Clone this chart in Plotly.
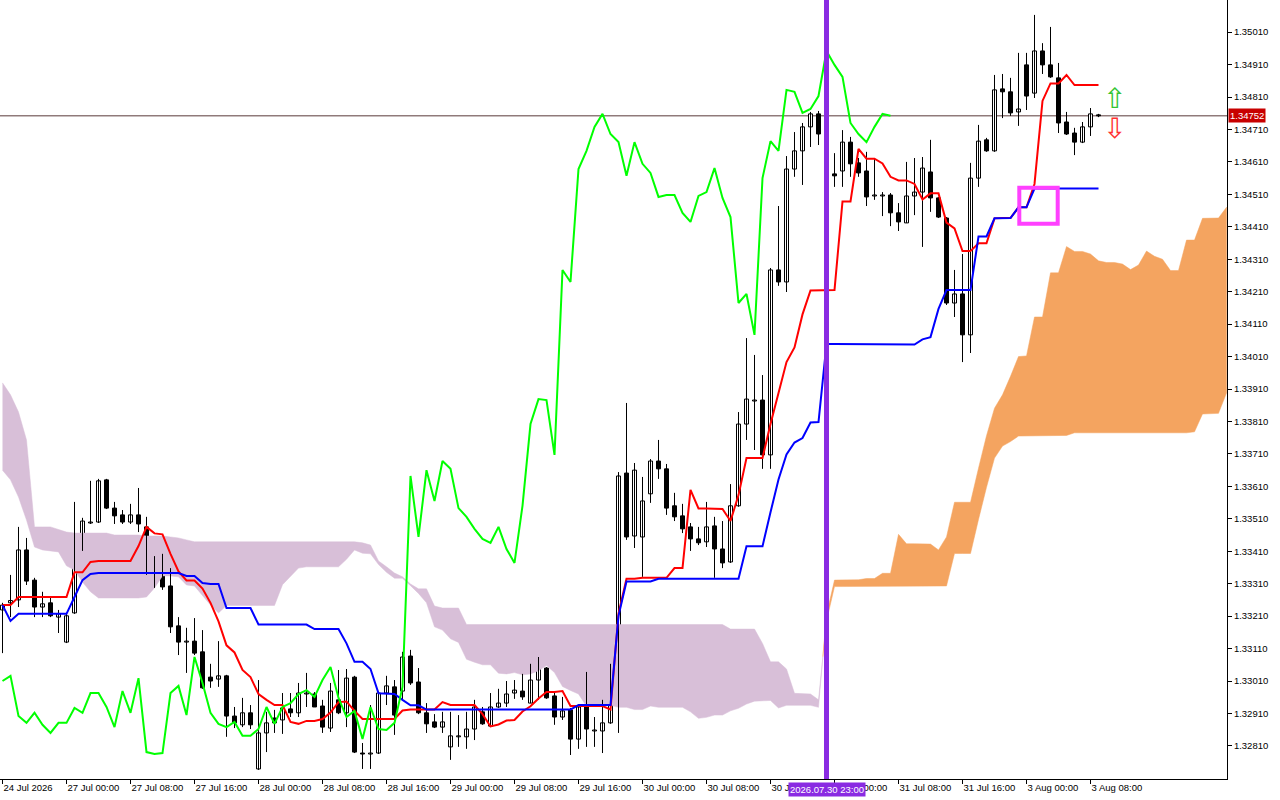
import plotly.graph_objects as go

# ---------------- data (H1, 24 Jul 16:00 -> 3 Aug 09:00) ----------------
label_bars = [0, 8, 16, 24, 32, 40, 48, 56, 64, 72, 80, 88, 96, 104, 112, 120, 128, 136]
label_text = ["24 Jul 2026", "27 Jul 00:00", "27 Jul 08:00", "27 Jul 16:00", "28 Jul 00:00",
              "28 Jul 08:00", "28 Jul 16:00", "29 Jul 00:00", "29 Jul 08:00", "29 Jul 16:00",
              "30 Jul 00:00", "30 Jul 08:00", "30 Jul 16:00", "31 Jul 00:00", "31 Jul 08:00",
              "31 Jul 16:00", "3 Aug 00:00", "3 Aug 08:00"]

price_ticks = [1.32810, 1.32910, 1.33010, 1.33110, 1.33210, 1.33310, 1.33410, 1.33510,
               1.33610, 1.33710, 1.33810, 1.33910, 1.34010, 1.34110, 1.34210, 1.34310,
               1.34410, 1.34510, 1.34610, 1.34710, 1.34810, 1.34910, 1.35010]

open_ = [1.33229, 1.33251, 1.33260, 1.33414, 1.33321, 1.33238, 1.33251, 1.33207, 1.33130, 1.33220,
         1.33420, 1.33497, 1.33500, 1.33630, 1.33543, 1.33522, 1.33500, 1.33522, 1.33485, 1.33340,
         1.33374, 1.33303, 1.33180, 1.33130, 1.33133, 1.33100, 1.33022, 1.33016, 1.33026, 1.32902,
         1.32875, 1.32912, 1.32739, 1.32850, 1.32896, 1.32890, 1.32924, 1.32912, 1.32970, 1.32970,
         1.32933, 1.32865, 1.32952, 1.32912, 1.33022, 1.32788, 1.32785, 1.32788, 1.32973, 1.32992,
         1.32979, 1.33087, 1.33007, 1.32912, 1.32884, 1.32868, 1.32807, 1.32838, 1.32838, 1.32862,
         1.32915, 1.32871, 1.32930, 1.32942, 1.32973, 1.32979, 1.32942, 1.33013, 1.33050, 1.32964,
         1.32899, 1.32921, 1.32831, 1.32930, 1.32856, 1.32856, 1.32881, 1.32986, 1.33651, 1.33457,
         1.33454, 1.33587, 1.33688, 1.33664, 1.33550, 1.33519, 1.33485, 1.33448, 1.33439, 1.33488,
         1.33417, 1.33377, 1.33550, 1.33802, 1.33873, 1.33876, 1.33707, 1.34277, 1.34240, 1.34588,
         1.34644, 1.34718, 1.34758, 1.34696, 1.34573, 1.34582, 1.34671, 1.34607, 1.34582, 1.34505,
         1.34505, 1.34508, 1.34453, 1.34422, 1.34505, 1.34517, 1.34579, 1.34499, 1.34437, 1.34175,
         1.34203, 1.34077, 1.34560, 1.34678, 1.34644, 1.34835, 1.34826, 1.34764, 1.34909, 1.34822,
         1.34952, 1.34909, 1.34869, 1.34733, 1.34699, 1.34671, 1.34718, 1.34755]

high = [1.33251, 1.33337, 1.33485, 1.33451, 1.33328, 1.33285, 1.33266, 1.33229, 1.33220, 1.33562,
        1.33513, 1.33627, 1.33633, 1.33633, 1.33562, 1.33537, 1.33556, 1.33605, 1.33516, 1.33395,
        1.33402, 1.33358, 1.33207, 1.33174, 1.33204, 1.33167, 1.33063, 1.33133, 1.33029, 1.32930,
        1.32958, 1.32936, 1.33013, 1.32915, 1.32921, 1.32973, 1.32973, 1.33004, 1.33035, 1.32976,
        1.32952, 1.33004, 1.33044, 1.33047, 1.33026, 1.32819, 1.32936, 1.32973, 1.33026, 1.33013,
        1.33100, 1.33106, 1.33050, 1.32942, 1.32908, 1.32915, 1.32915, 1.32905, 1.32915, 1.32952,
        1.32930, 1.32973, 1.32986, 1.33010, 1.33013, 1.33032, 1.33063, 1.33084, 1.33053, 1.32976,
        1.32961, 1.32927, 1.32933, 1.33038, 1.32899, 1.32952, 1.33063, 1.33654, 1.33867, 1.33682,
        1.33639, 1.33694, 1.33753, 1.33679, 1.33590, 1.33556, 1.33497, 1.33485, 1.33562, 1.33516,
        1.33503, 1.33617, 1.33839, 1.34067, 1.34015, 1.33953, 1.34283, 1.34474, 1.34628, 1.34702,
        1.34730, 1.34764, 1.34767, 1.34715, 1.34637, 1.34708, 1.34687, 1.34622, 1.34641, 1.34622,
        1.34517, 1.34514, 1.34483, 1.34610, 1.34622, 1.34625, 1.34678, 1.34502, 1.34440, 1.34277,
        1.34326, 1.34607, 1.34724, 1.34684, 1.34878, 1.34881, 1.34869, 1.34946, 1.34946, 1.35063,
        1.34976, 1.35026, 1.34915, 1.34764, 1.34715, 1.34733, 1.34776, 1.34758]

low = [1.33096, 1.33207, 1.33238, 1.33306, 1.33207, 1.33207, 1.33207, 1.33158, 1.33127, 1.33217,
       1.33411, 1.33494, 1.33497, 1.33540, 1.33494, 1.33494, 1.33494, 1.33469, 1.33337, 1.33297,
       1.33291, 1.33158, 1.33090, 1.33035, 1.33090, 1.32986, 1.32989, 1.32992, 1.32838, 1.32865,
       1.32868, 1.32862, 1.32736, 1.32791, 1.32850, 1.32847, 1.32899, 1.32899, 1.32930, 1.32930,
       1.32850, 1.32853, 1.32908, 1.32868, 1.32788, 1.32739, 1.32739, 1.32785, 1.32936, 1.32844,
       1.32952, 1.32998, 1.32908, 1.32850, 1.32865, 1.32850, 1.32767, 1.32807, 1.32801, 1.32828,
       1.32875, 1.32868, 1.32927, 1.32930, 1.32955, 1.32952, 1.32942, 1.32952, 1.32955, 1.32875,
       1.32890, 1.32782, 1.32801, 1.32807, 1.32807, 1.32788, 1.32878, 1.32850, 1.33445, 1.33420,
       1.33331, 1.33559, 1.33633, 1.33522, 1.33503, 1.33466, 1.33411, 1.33429, 1.33423, 1.33328,
       1.33358, 1.33374, 1.33547, 1.33753, 1.33722, 1.33664, 1.33664, 1.34228, 1.34209, 1.34564,
       1.34539, 1.34656, 1.34662, 1.34647, 1.34533, 1.34533, 1.34564, 1.34564, 1.34474, 1.34493,
       1.34443, 1.34412, 1.34397, 1.34422, 1.34446, 1.34348, 1.34456, 1.34437, 1.34169, 1.34132,
       1.33993, 1.34021, 1.34533, 1.34641, 1.34641, 1.34745, 1.34752, 1.34721, 1.34770, 1.34807,
       1.34881, 1.34869, 1.34699, 1.34693, 1.34631, 1.34668, 1.34690, 1.34748]

close = [1.33244, 1.33258, 1.33414, 1.33318, 1.33238, 1.33248, 1.33211, 1.33217, 1.33211, 1.33423,
         1.33503, 1.33500, 1.33627, 1.33543, 1.33519, 1.33500, 1.33522, 1.33494, 1.33340, 1.33374,
         1.33300, 1.33177, 1.33130, 1.33133, 1.33096, 1.32989, 1.33010, 1.33026, 1.32902, 1.32881,
         1.32912, 1.32875, 1.32850, 1.32881, 1.32881, 1.32927, 1.32912, 1.32973, 1.32973, 1.32930,
         1.32868, 1.32979, 1.32912, 1.33019, 1.32791, 1.32785, 1.32788, 1.32973, 1.32995, 1.32905,
         1.33084, 1.33004, 1.32912, 1.32878, 1.32868, 1.32884, 1.32841, 1.32841, 1.32862, 1.32930,
         1.32878, 1.32930, 1.32942, 1.32970, 1.32982, 1.32961, 1.33013, 1.33053, 1.32958, 1.32899,
         1.32918, 1.32831, 1.32930, 1.32862, 1.32859, 1.32881, 1.32992, 1.33642, 1.33454, 1.33660,
         1.33565, 1.33688, 1.33664, 1.33543, 1.33516, 1.33479, 1.33448, 1.33436, 1.33485, 1.33417,
         1.33374, 1.33550, 1.33802, 1.33879, 1.33876, 1.33707, 1.34277, 1.34240, 1.34588, 1.34644,
         1.34718, 1.34758, 1.34696, 1.34671, 1.34567, 1.34671, 1.34604, 1.34576, 1.34502, 1.34508,
         1.34508, 1.34453, 1.34425, 1.34505, 1.34517, 1.34591, 1.34499, 1.34440, 1.34175, 1.34203,
         1.34077, 1.34560, 1.34674, 1.34644, 1.34832, 1.34826, 1.34761, 1.34773, 1.34813, 1.34952,
         1.34909, 1.34872, 1.34730, 1.34696, 1.34671, 1.34718, 1.34758, 1.34752]

tenkan = [1.33244, 1.33244, 1.33269, 1.33269, 1.33269, 1.33269, 1.33269, 1.33269, 1.33269, 1.33345,
          1.33345, 1.33377, 1.33380, 1.33380, 1.33380, 1.33380, 1.33380, 1.33426, 1.33485, 1.33465,
          1.33462, 1.33402, 1.33348, 1.33320, 1.33320, 1.33295, 1.33251, 1.33194, 1.33120, 1.33098,
          1.33044, 1.33022, 1.32970, 1.32952, 1.32936, 1.32936, 1.32884, 1.32878, 1.32887, 1.32887,
          1.32893, 1.32913, 1.32945, 1.32947, 1.32918, 1.32893, 1.32893, 1.32893, 1.32893, 1.32893,
          1.32919, 1.32922, 1.32922, 1.32922, 1.32922, 1.32945, 1.32936, 1.32936, 1.32936, 1.32936,
          1.32908, 1.32870, 1.32876, 1.32888, 1.32890, 1.32916, 1.32932, 1.32956, 1.32976, 1.32976,
          1.32979, 1.32933, 1.32933, 1.32933, 1.32933, 1.32933, 1.32922, 1.33218, 1.33325, 1.33325,
          1.33328, 1.33328, 1.33328, 1.33328, 1.33358, 1.33358, 1.33599, 1.33542, 1.33542, 1.33540,
          1.33540, 1.33503, 1.33583, 1.33697, 1.33697, 1.33697, 1.33802, 1.33901, 1.33993, 1.34038,
          1.34140, 1.34214, 1.34215, 1.34215, 1.34215, 1.34488, 1.34488, 1.34650, 1.34620, 1.34620,
          1.34605, 1.34564, 1.34553, 1.34553, 1.34542, 1.34494, 1.34513, 1.34513, 1.34423, 1.34405,
          1.34335, 1.34335, 1.34359, 1.34359, 1.34436, 1.34437, 1.34437, 1.34470, 1.34470, 1.34542,
          1.34798, 1.34852, 1.34852, 1.34878, 1.34847, 1.34847, 1.34847, 1.34847]

kijun = [1.33244, 1.33195, 1.33217, 1.33217, 1.33217, 1.33217, 1.33217, 1.33217, 1.33217, 1.33269,
         1.33321, 1.33340, 1.33343, 1.33343, 1.33343, 1.33343, 1.33343, 1.33343, 1.33343, 1.33343,
         1.33343, 1.33343, 1.33343, 1.33334, 1.33334, 1.33312, 1.33309, 1.33309, 1.33235, 1.33235,
         1.33235, 1.33235, 1.33184, 1.33184, 1.33184, 1.33184, 1.33184, 1.33184, 1.33184, 1.33170,
         1.33170, 1.33170, 1.33170, 1.33126, 1.33069, 1.33069, 1.33047, 1.32972, 1.32970, 1.32970,
         1.32952, 1.32935, 1.32935, 1.32922, 1.32922, 1.32922, 1.32922, 1.32922, 1.32922, 1.32922,
         1.32922, 1.32922, 1.32922, 1.32922, 1.32922, 1.32922, 1.32922, 1.32922, 1.32922, 1.32922,
         1.32922, 1.32922, 1.32936, 1.32936, 1.32936, 1.32936, 1.32936, 1.33211, 1.33317, 1.33317,
         1.33317, 1.33317, 1.33325, 1.33325, 1.33325, 1.33325, 1.33325, 1.33325, 1.33325, 1.33325,
         1.33325, 1.33325, 1.33325, 1.33425, 1.33425, 1.33425, 1.33530, 1.33631, 1.33708, 1.33745,
         1.33759, 1.33807, 1.33808, 1.34049, 1.34049, 1.34049, 1.34047, 1.34047, 1.34047, 1.34047,
         1.34047, 1.34047, 1.34047, 1.34047, 1.34047, 1.34063, 1.34070, 1.34157, 1.34215, 1.34215,
         1.34215, 1.34215, 1.34380, 1.34380, 1.34436, 1.34437, 1.34437, 1.34470, 1.34470, 1.34528,
         1.34528, 1.34528, 1.34528, 1.34528, 1.34528, 1.34528, 1.34528, 1.34528]

# Senkou spans, already shifted 26 bars forward (index = chart bar, runs past the last candle)
senkou_a = [1.33660, 1.33630, 1.33577, 1.33506, 1.33423, 1.33414, 1.33411, 1.33408, 1.33365, 1.33352,
            1.33315, 1.33285, 1.33266, 1.33266, 1.33266, 1.33266, 1.33266, 1.33266, 1.33269, 1.33297,
            1.33334, 1.33334, 1.33331, 1.33306, 1.33303, 1.33272, 1.33244, 1.33220, 1.33243, 1.33243,
            1.33243, 1.33243, 1.33243, 1.33243, 1.33243, 1.33307, 1.33333, 1.33358, 1.33362, 1.33362,
            1.33362, 1.33362, 1.33362, 1.33385, 1.33414, 1.33404, 1.33402, 1.33369, 1.33345, 1.33327,
            1.33327, 1.33304, 1.33280, 1.33251, 1.33177, 1.33167, 1.33140, 1.33129, 1.33077, 1.33068,
            1.33060, 1.33060, 1.33034, 1.33032, 1.33036, 1.33029, 1.33032, 1.33042, 1.33058, 1.33036,
            1.32993, 1.32981, 1.32970, 1.32932, 1.32932, 1.32932, 1.32935, 1.32929, 1.32929, 1.32922,
            1.32922, 1.32933, 1.32929, 1.32929, 1.32929, 1.32929, 1.32915, 1.32895, 1.32898, 1.32905,
            1.32905, 1.32918, 1.32926, 1.32939, 1.32948, 1.32948, 1.32950, 1.32927, 1.32935, 1.32935,
            1.32935, 1.32935, 1.32929, 1.33214, 1.33321, 1.33321, 1.33322, 1.33322, 1.33326, 1.33326,
            1.33342, 1.33342, 1.33462, 1.33433, 1.33433, 1.33432, 1.33432, 1.33414, 1.33454, 1.33561,
            1.33561, 1.33561, 1.33666, 1.33766, 1.33851, 1.33892, 1.33949, 1.34010, 1.34012, 1.34132,
            1.34132, 1.34268, 1.34268, 1.34349, 1.34334, 1.34334, 1.34326, 1.34305, 1.34300, 1.34300,
            1.34295, 1.34278, 1.34292, 1.34335, 1.34319, 1.34310, 1.34275, 1.34275, 1.34369, 1.34369,
            1.34436, 1.34437, 1.34437, 1.34470]

senkou_b = [1.33929, 1.33892, 1.33839, 1.33753, 1.33485, 1.33485, 1.33485, 1.33476, 1.33469, 1.33466,
            1.33466, 1.33466, 1.33466, 1.33466, 1.33460, 1.33460, 1.33460, 1.33460, 1.33457, 1.33457,
            1.33457, 1.33454, 1.33451, 1.33445, 1.33439, 1.33439, 1.33439, 1.33439, 1.33439, 1.33439,
            1.33439, 1.33439, 1.33439, 1.33439, 1.33439, 1.33439, 1.33439, 1.33439, 1.33439, 1.33439,
            1.33439, 1.33439, 1.33439, 1.33439, 1.33439, 1.33436, 1.33429, 1.33380, 1.33362, 1.33343,
            1.33331, 1.33309, 1.33294, 1.33294, 1.33241, 1.33235, 1.33235, 1.33235, 1.33184, 1.33184,
            1.33184, 1.33184, 1.33184, 1.33184, 1.33184, 1.33184, 1.33184, 1.33184, 1.33184, 1.33184,
            1.33184, 1.33184, 1.33184, 1.33184, 1.33184, 1.33184, 1.33184, 1.33184, 1.33184, 1.33184,
            1.33184, 1.33184, 1.33184, 1.33184, 1.33184, 1.33184, 1.33184, 1.33184, 1.33184, 1.33184,
            1.33184, 1.33170, 1.33170, 1.33170, 1.33170, 1.33126, 1.33069, 1.33069, 1.33047, 1.32972,
            1.32970, 1.32970, 1.32952, 1.33195, 1.33301, 1.33301, 1.33301, 1.33301, 1.33301, 1.33301,
            1.33303, 1.33303, 1.33303, 1.33303, 1.33303, 1.33303, 1.33303, 1.33303, 1.33303, 1.33403,
            1.33403, 1.33403, 1.33508, 1.33607, 1.33697, 1.33734, 1.33748, 1.33765, 1.33767, 1.33767,
            1.33767, 1.33767, 1.33767, 1.33767, 1.33775, 1.33775, 1.33775, 1.33775, 1.33775, 1.33775,
            1.33775, 1.33775, 1.33775, 1.33775, 1.33775, 1.33775, 1.33775, 1.33775, 1.33775, 1.33778,
            1.33833, 1.33835, 1.33835, 1.33898]

CHIKOU_SHIFT = 26
bid_price = 1.34752
event_bar = 103
event_label = "2026.07.30 23:00"
box_bars = (127.1, 131.9)
box_prices = (1.34419, 1.34530)
arrow_bar = 139
arrow_up_price = 1.34806
arrow_down_price = 1.34712

n = len(close)
assert len(open_) == n and len(high) == n and len(low) == n
assert len(tenkan) == n and len(kijun) == n, (len(tenkan), len(kijun))
assert len(senkou_a) == len(senkou_b) == 154, (len(senkou_a), len(senkou_b))

SANDY = "#F4A460"
THISTLE = "#D8BFD8"

fig = go.Figure()

# ---------------- Kumo (cloud) polygons, split where the spans cross ----------------
def cloud_regions(a, b):
    regions = []
    xs, up, lo = [], [], []
    sign = None
    for i in range(len(a)):
        s = a[i] >= b[i]
        if sign is None:
            sign = s
        if s != sign:
            d0 = a[i - 1] - b[i - 1]
            d1 = a[i] - b[i]
            t = d0 / (d0 - d1)
            xc = i - 1 + t
            yc = a[i - 1] + t * (a[i] - a[i - 1])
            xs.append(xc); up.append(yc); lo.append(yc)
            regions.append((xs, up, lo, sign))
            xs, up, lo = [xc], [yc], [yc]
            sign = s
        xs.append(i); up.append(a[i]); lo.append(b[i])
    regions.append((xs, up, lo, sign))
    return regions

for xs, up, lo, bull in cloud_regions(senkou_a, senkou_b):
    col = SANDY if bull else THISTLE
    fig.add_trace(go.Scatter(x=xs + xs[::-1], y=up + lo[::-1], fill="toself", fillcolor=col,
                             mode="lines", line=dict(color=col, width=0.5),
                             hoverinfo="skip", showlegend=False))

# ---------------- candles ----------------
wx, wy = [], []
for i in range(n):
    wx += [i, i, None]
    wy += [low[i], high[i], None]
fig.add_trace(go.Scatter(x=wx, y=wy, mode="lines", line=dict(color="black", width=1),
                         hoverinfo="skip", showlegend=False))

MIN_BODY = 0.00001
for bull in (True, False):
    idx = [i for i in range(n) if (close[i] >= open_[i]) == bull]
    base = [min(open_[i], close[i]) for i in idx]
    hgt = [max(abs(close[i] - open_[i]), MIN_BODY) for i in idx]
    fig.add_trace(go.Bar(x=idx, y=hgt, base=base, width=0.5,
                         marker=dict(color="white" if bull else "black",
                                     line=dict(color="black", width=1)),
                         hoverinfo="skip", showlegend=False))

# ---------------- Ichimoku lines ----------------
fig.add_trace(go.Scatter(x=list(range(n)), y=tenkan, mode="lines",
                         line=dict(color="#FF0000", width=2), hoverinfo="skip", showlegend=False))
fig.add_trace(go.Scatter(x=list(range(n)), y=kijun, mode="lines",
                         line=dict(color="#0000FF", width=2), hoverinfo="skip", showlegend=False))
chikou = close[CHIKOU_SHIFT:]
fig.add_trace(go.Scatter(x=list(range(len(chikou))), y=chikou, mode="lines",
                         line=dict(color="#00FF00", width=2), hoverinfo="skip", showlegend=False))

# ---------------- objects ----------------
shapes = [
    dict(type="line", xref="paper", x0=0, x1=1, yref="y", y0=bid_price, y1=bid_price,
         line=dict(color="#5A3A3A", width=1), layer="below"),
    dict(type="line", xref="x", x0=event_bar, x1=event_bar, yref="paper", y0=0, y1=1,
         line=dict(color="#8A2BE2", width=5)),
    dict(type="rect", xref="x", x0=box_bars[0], x1=box_bars[1], yref="y",
         y0=box_prices[0], y1=box_prices[1], line=dict(color="#FF40FF", width=4)),
]

FONT = "Liberation Sans, Arial, sans-serif"
TICKFONT = dict(family=FONT, size=9.5, color="black")

annotations = [
    dict(x=1, xref="paper", xanchor="left", xshift=1, y=bid_price, yref="y", yanchor="middle",
         text="1.34752", showarrow=False, bgcolor="#C80000", borderpad=1,
         font=dict(family=FONT, size=9.5, color="white")),
    dict(x=event_bar, xref="x", y=0, yref="paper", yanchor="top", yshift=-3, xanchor="center",
         text=event_label, showarrow=False, bgcolor="#8A2BE2", borderpad=1,
         font=dict(family=FONT, size=9.5, color="white")),
    dict(x=arrow_bar, xref="x", y=arrow_up_price, yref="y", text="⇧", showarrow=False,
         font=dict(family="DejaVu Sans", size=28, color="#33C433")),
    dict(x=arrow_bar, xref="x", y=arrow_down_price, yref="y", text="⇩", showarrow=False,
         font=dict(family="DejaVu Sans", size=28, color="#FF3030")),
]

PX_PER_BAR = 8.0
x_left = -2.5 / PX_PER_BAR
x_right = x_left + 1227 / PX_PER_BAR

fig.update_layout(
    width=1280, height=800,
    margin=dict(l=0, r=53, t=0, b=21),
    paper_bgcolor="white", plot_bgcolor="white",
    barmode="overlay", showlegend=False,
    shapes=shapes, annotations=annotations,
    xaxis=dict(range=[x_left, x_right], showgrid=False, zeroline=False,
               showline=True, linecolor="black", linewidth=1,
               ticks="outside", ticklen=4, tickcolor="black",
               tickvals=label_bars, ticktext=label_text,
               ticklabelposition="outside right", tickfont=TICKFONT, fixedrange=True),
    yaxis=dict(range=[1.32708, 1.35109], side="right", showgrid=False, zeroline=False,
               showline=True, linecolor="black", linewidth=1,
               ticks="outside", ticklen=4, tickcolor="black",
               tickvals=price_ticks, ticktext=[f"{v:.5f}" for v in price_ticks],
               tickfont=TICKFONT, fixedrange=True),
)

fig.write_html(
    "out.html",
    config={"displayModeBar": False},
    post_script="document.body.style.margin='0px';document.body.style.overflow='hidden';",
)
